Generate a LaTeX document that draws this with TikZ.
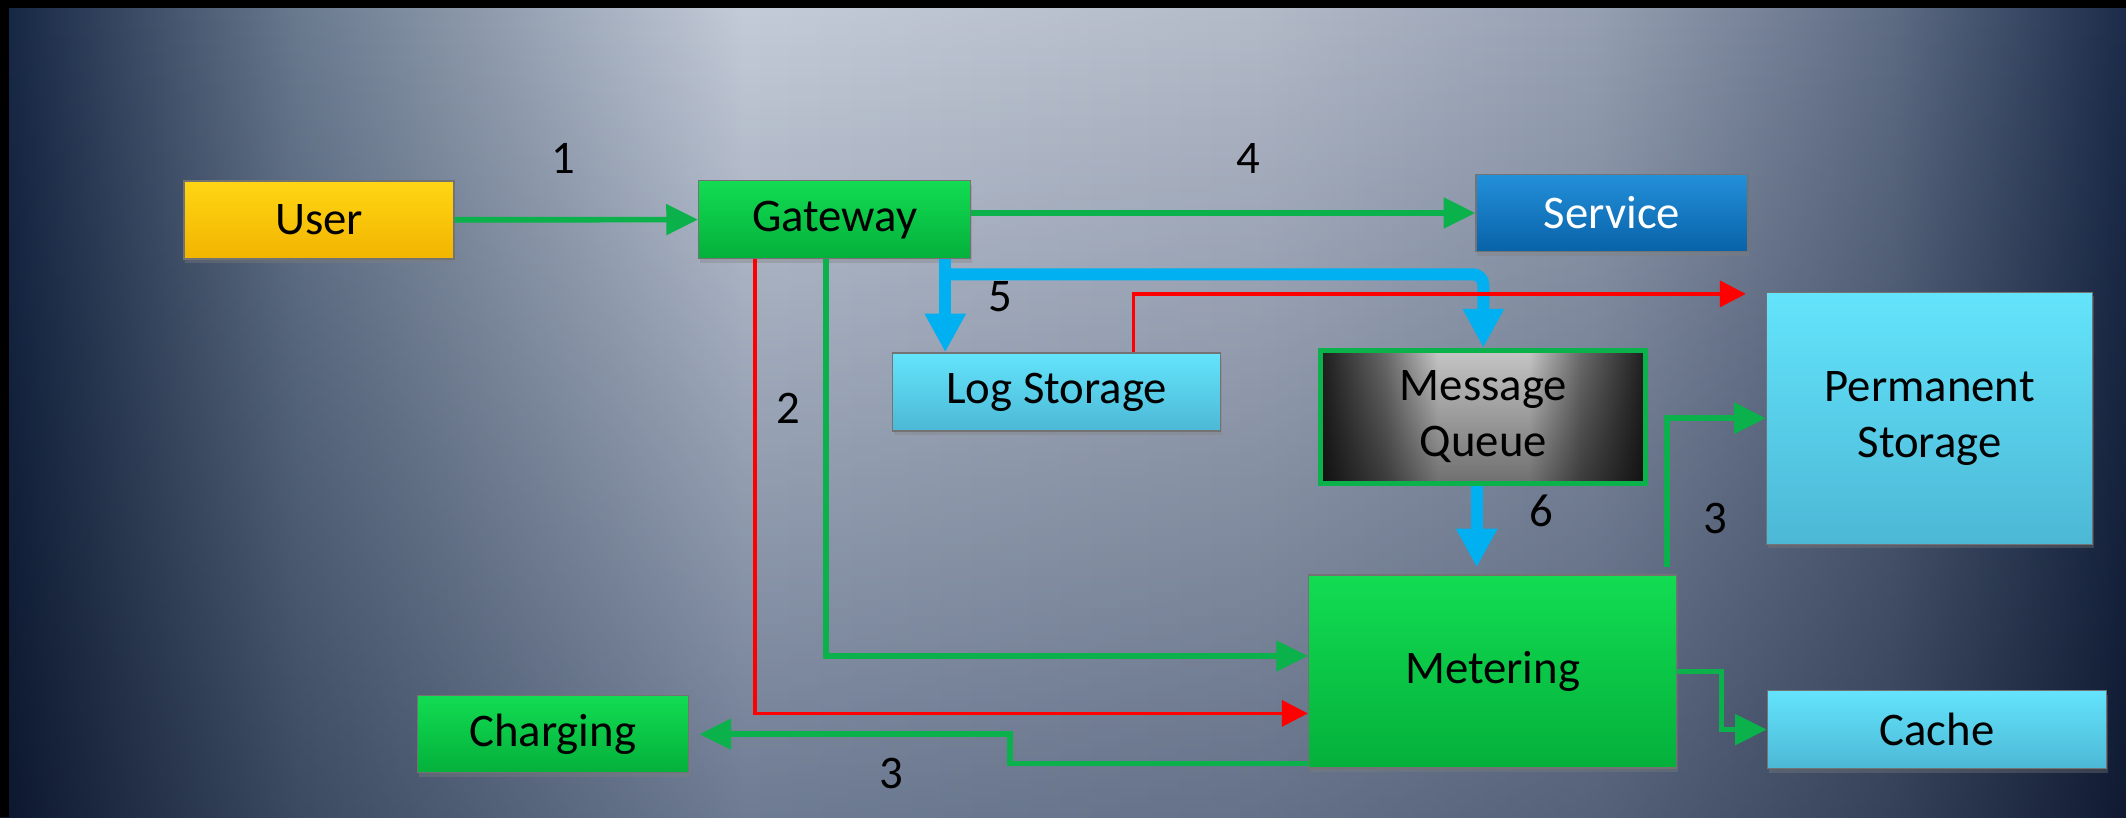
\documentclass[tikz,border=0pt]{standalone}
\usepackage{fontspec}
\setmainfont{Carlito}
\usetikzlibrary{arrows.meta,calc,shadows}

\definecolor{bgnavy}{HTML}{152644}
\definecolor{bgmid}{HTML}{6A7A8F}
\definecolor{bglight}{HTML}{C5CCD9}
\definecolor{bgpale}{HTML}{B4BBC9}
\definecolor{bgsoft}{HTML}{97A1B3}
\definecolor{bgmidb}{HTML}{5E6C84}
\definecolor{bgdeep}{HTML}{1C2C4A}
\definecolor{bgmul}{HTML}{8F9BAD}
\definecolor{userhi}{HTML}{FFD614}
\definecolor{userlo}{HTML}{F2B400}
\definecolor{limehi}{HTML}{12DC52}
\definecolor{limelo}{HTML}{04B03B}
\definecolor{servhi}{HTML}{2390DA}
\definecolor{servlo}{HTML}{0862A8}
\definecolor{aquahi}{HTML}{64E4FC}
\definecolor{aqualo}{HTML}{4CB8D6}
\definecolor{flowgreen}{HTML}{0BB14B}
\definecolor{flowblue}{HTML}{00B0F0}
\definecolor{qlight}{HTML}{C6C6C6}
\definecolor{qgrey}{HTML}{6A6A6A}
\definecolor{qdark}{HTML}{1E1E1E}
\definecolor{qfloor}{HTML}{909090}

% backdrop runs dark - light - dark from left to right (path spans 25bp..75bp)
\pgfdeclarehorizontalshading{backdrop}{100bp}{color(0bp)=(bgnavy); color(25bp)=(bgnavy); color(32bp)=(bgmid); color(42.5bp)=(bglight); color(54.5bp)=(bgpale); color(62.5bp)=(bgsoft); color(69.5bp)=(bgmidb); color(75bp)=(bgdeep); color(100bp)=(bgdeep)}
% queue fill: light band in the middle, dark at the sides
\pgfdeclarehorizontalshading{queueband}{100bp}{color(0bp)=(qdark); color(25bp)=(qdark); color(35bp)=(qgrey); color(43bp)=(qlight); color(57bp)=(qlight); color(65bp)=(qgrey); color(75bp)=(qdark); color(100bp)=(qdark)}

\begin{document}
\begin{tikzpicture}[scale=0.2]
\tikzstyle{every node}+=[inner sep=0pt, font=\fontsize{13.3}{16}\selectfont]
\tikzstyle{box}=[draw=black!55, line width=0.4pt, align=center, drop shadow={shadow xshift=0.4pt, shadow yshift=-1.2pt, opacity=0.35}]
\tikzstyle{gold}=[box, top color=userhi, bottom color=userlo]
\tikzstyle{lime}=[box, top color=limehi, bottom color=limelo]
\tikzstyle{deepblue}=[box, top color=servhi, bottom color=servlo, text=white]
\tikzstyle{aqua}=[box, top color=aquahi, bottom color=aqualo]
\tikzstyle{queue}=[draw=flowgreen, line width=1.4pt, align=center, shading=queueband,
  path picture={\shade [top color=white, bottom color=qfloor, blend mode=multiply]
    (path picture bounding box.south west) rectangle (path picture bounding box.north east);}]
\tikzstyle{flowg}=[draw=flowgreen, line width=1.6pt, -{Triangle[length=9pt,width=8.5pt]}]
\tikzstyle{flowr}=[draw=red, line width=1pt, -{Triangle[length=7.4pt,width=7.4pt]}]
\tikzstyle{flowb}=[draw=flowblue, line width=3.4pt, -{Triangle[length=11pt,width=11pt]}]

\useasboundingbox (0,0) rectangle (106.3,-40.85);
\shade [shading=backdrop] (0,0) rectangle (106.3,-40.85);
% darker towards the bottom
\shade [top color=white, bottom color=bgmul, blend mode=multiply] (0,0) rectangle (106.3,-40.85);
% black bands along the top and left edge
\fill [black] (0,0) rectangle (106.3,-0.4);
\fill [black] (0,0) rectangle (0.45,-40.85);

% boxes
\node [gold, minimum width=2.70cm, minimum height=0.78cm] (user) at (15.95,-10.99) {User};
\node [lime, minimum width=2.72cm, minimum height=0.78cm] (gateway) at (41.73,-10.98) {Gateway};
\node [deepblue, minimum width=2.72cm, minimum height=0.77cm] (service) at (80.6,-10.65) {Service};
\node [aqua, minimum width=3.28cm, minimum height=0.78cm] (logst) at (52.83,-19.6) {Log Storage};
\node [queue, minimum width=3.25cm, minimum height=1.33cm] (mq) at (74.17,-20.83) {Message\\Queue};
\node [aqua, minimum width=3.26cm, minimum height=2.52cm] (perm) at (96.48,-20.91) {Permanent\\Storage};
\node [aqua, minimum width=3.39cm, minimum height=0.78cm] (cache) at (96.85,-36.48) {Cache};
\node [lime, minimum width=3.68cm, minimum height=1.93cm] (meter) at (74.63,-33.58) {Metering};
\node [lime, minimum width=2.71cm, minimum height=0.77cm] (charging) at (27.64,-36.71) {Charging};

% taps on the box edges
\coordinate (tap) at ($(gateway.south east)+(-1.3,0)$);
\coordinate (split) at ($(tap)+(0,-0.75)$);
\coordinate (logtap) at ($(logst.north)+(3.85,0)$);
\coordinate (permtop) at ($(perm.north west)+(-1,-0.12)$);
\coordinate (redtap) at ($(gateway.south west)+(2.85,0)$);
\coordinate (greentap) at ($(gateway.south west)+(6.42,0)$);
\coordinate (mqtap) at ($(mq.south)+(-0.33,0)$);
\coordinate (metertop) at ($(meter.north east)+(-0.5,0.35)$);
\coordinate (meterlow) at ($(meter.south west)+(0,0.27)$);

% connectors
\draw [flowg] (user.east) -- (gateway.west);
\draw [flowg] (gateway.east |- service.west) -- (service.west);
\draw [flowb] (tap) -- (tap |- logst.north);
\draw [flowb, rounded corners=3pt] (split) -| (mq.north);
\draw [flowr] (logtap) |- (permtop);
\draw [flowr] (redtap) |- ($(meter.west)+(0,-2.09)$);
\draw [flowg] (greentap) |- ($(meter.west)+(0,0.78)$);
\draw [flowg, shorten >=3pt] (meterlow) -| ($(charging.east)+(16.04,0)$) -- (charging.east);
\draw [flowb, shorten >=2pt] (mqtap) -- (mqtap |- meter.north);
\draw [flowg] (metertop) |- (perm.west);
\draw [flowg] (meter.east) -| ($(cache.west)+(-2.27,0)$) -- (cache.west);

% step numbers
\node (n1) at (28.15,-7.9) {1};
\node (n2) at (39.4,-20.42) {2};
\node (n3a) at (85.75,-25.9) {3};
\node (n3b) at (44.55,-38.65) {3};
\node (n4) at (62.44,-7.93) {4};
\node (n5) at (50.0,-14.85) {5};
\node (n6) at (77.09,-25.54) {6};
\end{tikzpicture}
\end{document}
